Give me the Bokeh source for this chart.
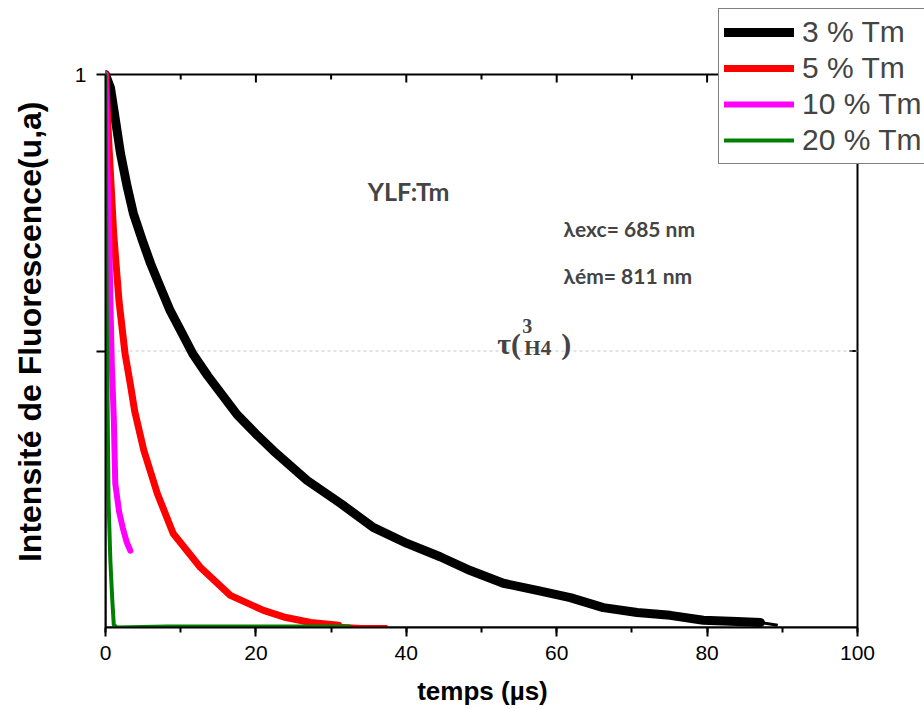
from bokeh.plotting import figure
from bokeh.models import (Range1d, SingleIntervalTicker, FixedTicker, BoxAnnotation,
                          CustomJSTickFormatter, Label, Legend, LegendItem)
from bokeh.embed import file_html
from bokeh.resources import INLINE

# ---- data (time in µs, normalised intensity) ----
t_3 = [0, 0.66, 1.33, 2.0, 2.9, 3.7, 4.9, 6.0, 7.3, 8.6, 10.0, 11.6, 13.6, 17.5,
       20.0, 22.3, 26.8, 31.3, 35.6, 40.1, 44.5, 48.5, 52.9, 57.4, 61.8, 66.2, 70.7,
       75.1, 79.5, 84.0, 87.1]
i_3 = [1.0, 0.976, 0.917, 0.857, 0.796, 0.749, 0.70, 0.658, 0.615, 0.573, 0.537, 0.495,
       0.455, 0.385, 0.35, 0.32, 0.266, 0.224, 0.181, 0.152, 0.128, 0.103, 0.08,
       0.067, 0.054, 0.036, 0.027, 0.022, 0.013, 0.011, 0.009]
t_3_tail = [87.1, 89.4]
i_3_tail = [0.009, 0.004]

t_5 = [0, 0.5, 1.1, 1.8, 2.6, 3.3, 3.9, 5.1, 6.9, 9.0, 12.6, 16.6, 21.0, 24.0, 27.3, 31.0]
i_5 = [1.0, 0.86, 0.71, 0.59, 0.495, 0.44, 0.39, 0.32, 0.242, 0.17, 0.109, 0.058,
       0.031, 0.018, 0.009, 0.004]
t_5_tail = [31.0, 34.0, 37.5]
i_5_tail = [0.004, 0.002, 0.002]

t_10 = [0, 0.2, 0.5, 0.65, 0.85, 1.1, 1.3, 1.8, 2.3, 2.8, 3.3]
i_10 = [1.0, 0.85, 0.7, 0.59, 0.47, 0.38, 0.26, 0.21, 0.18, 0.155, 0.139]

t_20 = [0, 0.15, 0.25, 0.4, 0.65, 0.9, 1.1, 1.5, 8.3, 32.4]
i_20 = [1.0, 0.6, 0.45, 0.23, 0.12, 0.05, 0.005, 0.0, 0.002, 0.002]

series_labels = ["3 % Tm", "5 % Tm", "10 % Tm", "20 % Tm"]
series_colors = ["#000000", "#ff0000", "#ff00ff", "#008000"]
x_min, x_max, x_step = 0, 100, 20
y_min, y_max = 0, 1
y_ticks = [0.5, 1.0]
half_level = 0.5

W, H = 924, 709
LEFT, BOTTOM = 105, 82          # frame left edge / space under frame (px)
PX_X = 7.52                      # px per µs
PX_Y = 553.0                     # px per intensity unit
x_end = x_max + (W - LEFT - (x_max - x_min) * PX_X) / PX_X
y_end = y_max + (H - BOTTOM - (y_max - y_min) * PX_Y) / PX_Y
NB = "\u00a0"

p = figure(width=W, height=H, output_backend="svg", toolbar_location=None,
           x_range=Range1d(x_min, x_end), y_range=Range1d(y_min, y_end),
           min_border_left=LEFT, min_border_right=0, min_border_top=0,
           min_border_bottom=BOTTOM, x_axis_label="temps (µs)" + NB * 9,
           y_axis_label="Intensité de Fluorescence(u,a)" + NB * 4)
p.grid.visible = False
p.outline_line_color = None
p.background_fill_color = "white"
p.border_fill_color = "white"

AXIS_FONT = "Liberation Sans"

xa = p.xaxis[0]
xa.ticker = SingleIntervalTicker(interval=x_step, num_minor_ticks=2)
xa.bounds = (x_min, x_max)
ya = p.yaxis[0]
ya.ticker = FixedTicker(ticks=y_ticks)
ya.bounds = (y_min, y_max)
ya.formatter = CustomJSTickFormatter(code="return tick == 1 ? '1' : '';")

for ax in (xa, ya):
    ax.axis_line_width = 2
    ax.major_tick_line_width = 2
    ax.minor_tick_line_width = 2
    ax.major_tick_out = 9
    ax.major_tick_in = 0
    ax.minor_tick_out = 5
    ax.minor_tick_in = 0
    ax.major_label_text_font = AXIS_FONT
    ax.major_label_text_font_size = "21px"
    ax.major_label_text_color = "black"
    ax.axis_label_text_font = AXIS_FONT
    ax.axis_label_text_font_style = "bold"
    ax.axis_label_text_color = "black"
ya.minor_tick_out = 0
xa.axis_label_text_font_size = "26px"
ya.axis_label_text_font_size = "32px"
xa.major_label_standoff = 9
xa.axis_label_standoff = 13
ya.major_label_standoff = 10
ya.axis_label_standoff = 24

# frame box (top and right borders)
p.add_layout(BoxAnnotation(left=x_min, right=x_max, bottom=y_min, top=y_max,
                           fill_alpha=0, line_color="black", line_alpha=1.0,
                           line_width=2, level="underlay"))

# inward ticks on top and right borders
maj_x = list(range(x_min, x_max + 1, x_step))
min_x = [v + x_step / 2 for v in maj_x[:-1]]
p.segment(x0=maj_x, y0=[y_max] * len(maj_x), x1=maj_x,
          y1=[y_max - 8 / PX_Y] * len(maj_x), line_color="black", line_width=2)
p.segment(x0=min_x, y0=[y_max] * len(min_x), x1=min_x,
          y1=[y_max - 5 / PX_Y] * len(min_x), line_color="black", line_width=2)
p.segment(x0=[x_max] * len(y_ticks), y0=y_ticks, x1=[x_max - 8 / PX_X] * len(y_ticks),
          y1=y_ticks, line_color="black", line_width=2)

# dotted reference line at half intensity
p.segment(x0=[x_min], y0=[half_level], x1=[x_max], y1=[half_level],
          line_color="#c8c8c8", line_width=1, line_dash="3 3")

# curves
r3 = p.line(t_3, i_3, line_color=series_colors[0], line_width=9, line_join="round", line_cap="round")
p.line(t_3_tail, i_3_tail, line_color=series_colors[0], line_width=3)
r5 = p.line(t_5, i_5, line_color=series_colors[1], line_width=7, line_join="round", line_cap="round")
p.line(t_5_tail, i_5_tail, line_color=series_colors[1], line_width=3)
r10 = p.line(t_10, i_10, line_color=series_colors[2], line_width=6, line_join="round", line_cap="round")
r20 = p.line(t_20, i_20, line_color=series_colors[3], line_width=4, line_join="round", line_cap="round")

legend = Legend(items=[LegendItem(label=series_labels[k], renderers=[r])
                       for k, r in enumerate([r3, r5, r10, r20])],
                location=(613, 463), padding=5, spacing=0, margin=0,
                glyph_width=70, glyph_height=36, label_height=36, label_standoff=8,
                label_text_font=AXIS_FONT, label_text_font_size="30px",
                border_line_color="black", border_line_width=1.5,
                background_fill_color="white", background_fill_alpha=1.0)
p.add_layout(legend, "center")

# annotations
ANN = "Lato"
p.add_layout(Label(x=40.3, y=0.79, text="YLF:Tm", text_font=ANN, text_font_style="bold",
                   text_font_size="25px", text_align="center", text_baseline="middle"))
p.add_layout(Label(x=60.9, y=0.7215, text="λexc= 685 nm", text_font=ANN, text_font_style="bold",
                   text_font_size="21px", text_align="left", text_baseline="middle"))
p.add_layout(Label(x=60.9, y=0.6365, text="λém= 811 nm", text_font=ANN, text_font_style="bold",
                   text_font_size="21px", text_align="left", text_baseline="middle"))
SER = "Liberation Serif"
tx, ty = 52.1, 0.5136
p.add_layout(Label(x=tx, y=ty, text="τ(", text_font=SER, text_font_style="bold",
                   text_font_size="30px", text_align="left", text_baseline="alphabetic"))
p.add_layout(Label(x=tx, y=ty, x_offset=25, y_offset=17, text="3", text_font=SER,
                   text_font_style="bold", text_font_size="20px", text_align="left",
                   text_baseline="alphabetic"))
p.add_layout(Label(x=tx, y=ty, x_offset=27, y_offset=-5, text="H4", text_font=SER,
                   text_font_style="bold", text_font_size="21px", text_align="left",
                   text_baseline="alphabetic"))
p.add_layout(Label(x=tx, y=ty, x_offset=64, y_offset=0, text=")", text_font=SER,
                   text_font_style="bold", text_font_size="30px", text_align="left",
                   text_baseline="alphabetic"))

open("out.html", "w").write(file_html(p, INLINE))
